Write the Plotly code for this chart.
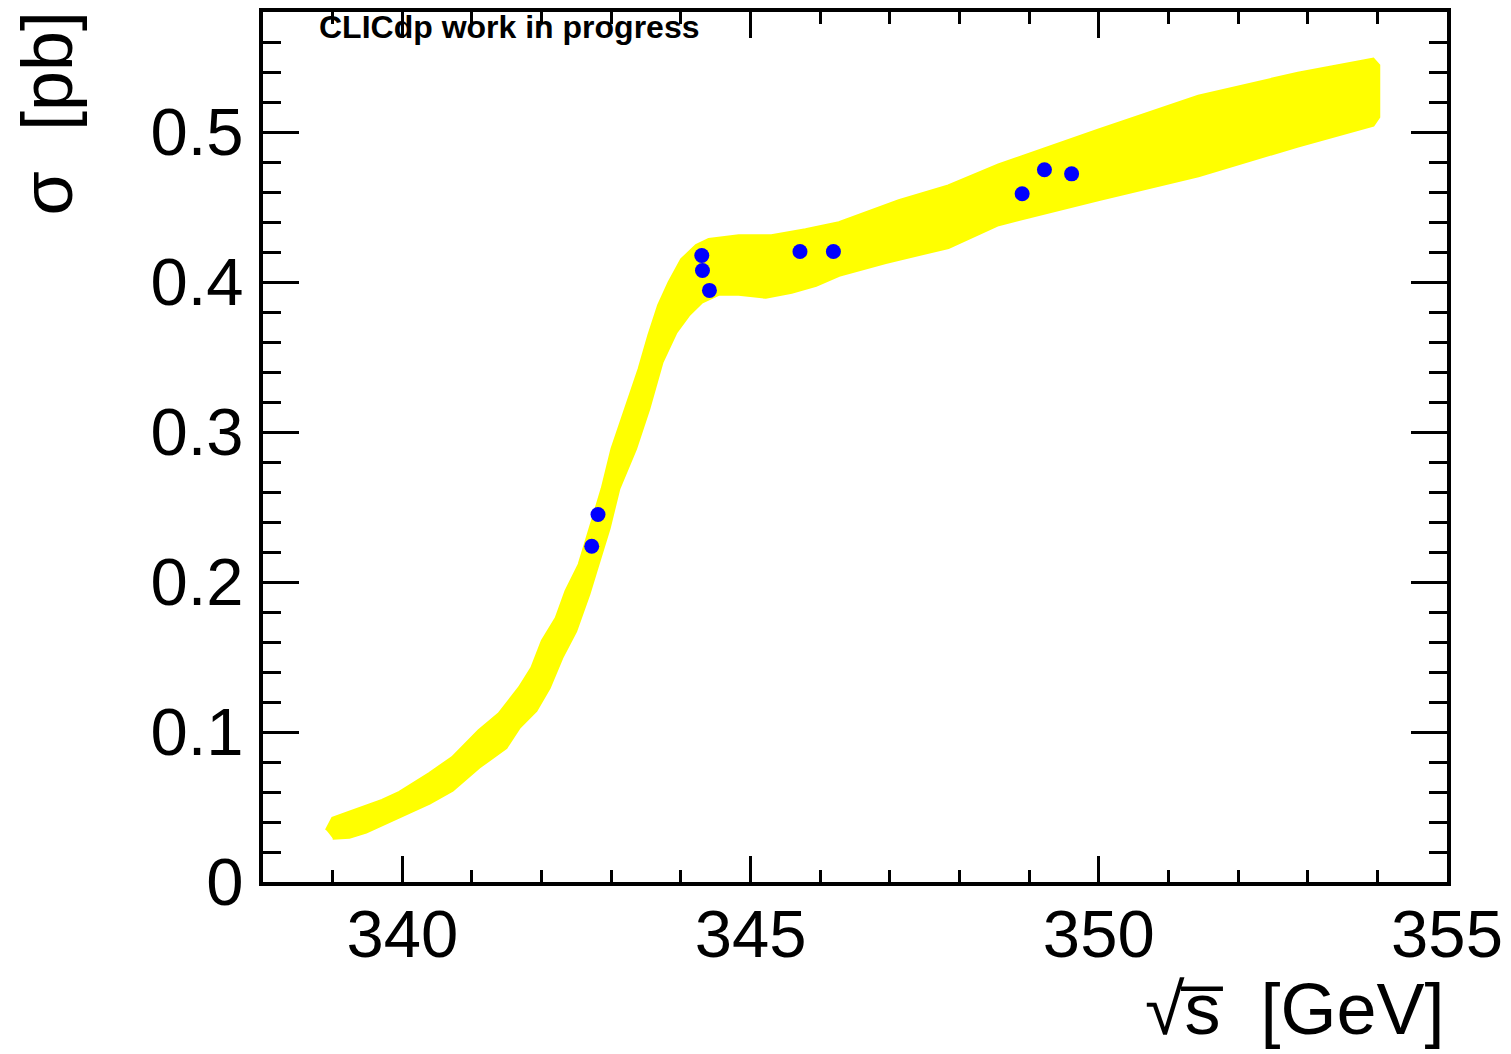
import plotly.graph_objects as go

# Upper (top/left) edge of the yellow band
band_upper_x = [338.91, 339.00, 339.24, 339.48, 339.71, 339.96, 340.39, 340.72, 341.10, 341.39,
                341.68, 341.86, 342.01, 342.21, 342.35, 342.54, 342.64, 342.87, 343.01, 343.21,
                343.40, 343.54, 343.68, 343.83, 344.01, 344.22, 344.40, 344.83, 345.30, 345.79,
                346.27, 347.13, 347.84, 348.56, 349.99, 351.43, 352.86, 353.94, 354.02]
band_upper_y = [0.0345, 0.0425, 0.0465, 0.0505, 0.0544, 0.0598, 0.0724, 0.0830, 0.1009, 0.1122,
                0.1295, 0.1428, 0.1607, 0.1760, 0.1939, 0.2118, 0.2271, 0.2623, 0.2888, 0.3154,
                0.3420, 0.3645, 0.3845, 0.3997, 0.4150, 0.4243, 0.4283, 0.4309, 0.4309, 0.4349,
                0.4396, 0.4542, 0.4641, 0.4781, 0.5013, 0.5239, 0.5392, 0.5485, 0.5445]

# Lower (bottom/right) edge of the yellow band
band_lower_x = [339.00, 339.24, 339.48, 339.71, 339.96, 340.39, 340.72, 341.10, 341.49, 341.68,
                341.92, 342.11, 342.29, 342.49, 342.68, 342.78, 342.97, 343.11, 343.35, 343.54,
                343.73, 343.93, 344.11, 344.30, 344.54, 344.83, 345.22, 345.59, 345.94, 346.27,
                346.94, 347.84, 348.56, 349.99, 351.43, 352.86, 353.94, 354.02]
band_lower_y = [0.0292, 0.0299, 0.0332, 0.0378, 0.0432, 0.0525, 0.0611, 0.0764, 0.0896, 0.1030,
                0.1142, 0.1295, 0.1494, 0.1673, 0.1919, 0.2072, 0.2357, 0.2623, 0.2888, 0.3154,
                0.3466, 0.3665, 0.3778, 0.3865, 0.3918, 0.3918, 0.3898, 0.3931, 0.3977, 0.4044,
                0.4130, 0.4230, 0.4382, 0.4548, 0.4708, 0.4907, 0.5046, 0.5100]

# Blue measurement points
points_x = [342.72, 342.81, 344.30, 344.31, 344.41, 345.71, 346.19, 348.90, 349.22, 349.61]
points_y = [0.2238, 0.2450, 0.4177, 0.4077, 0.3944, 0.4203, 0.4203, 0.4588, 0.4748, 0.4721]

x_tickvals = [340, 345, 350, 355]
y_tickvals = [0, 0.1, 0.2, 0.3, 0.4, 0.5]
y_ticktext = ["0", "0.1", "0.2", "0.3", "0.4", "0.5"]

poly_x = band_upper_x + band_lower_x[::-1]
poly_y = band_upper_y + band_lower_y[::-1]

FONT = "Liberation Sans, Arial, Helvetica, sans-serif"

fig = go.Figure()
fig.add_trace(go.Scatter(
    x=poly_x, y=poly_y, mode="lines", fill="toself",
    fillcolor="#ffff00", line=dict(color="#ffff00", width=3),
    hoverinfo="skip", showlegend=False))
fig.add_trace(go.Scatter(
    x=points_x, y=points_y, mode="markers",
    marker=dict(color="#0000ff", size=15, line=dict(width=0)),
    showlegend=False))

axis_common = dict(
    showline=True, linecolor="black", linewidth=4, mirror="allticks",
    ticks="inside", tickcolor="black", tickwidth=3,
    showgrid=False, zeroline=False,
    tickfont=dict(family=FONT, size=67, color="black"),
)

fig.update_xaxes(
    range=[338, 355], tickvals=x_tickvals, ticklen=26,
    minor=dict(dtick=1, tick0=340, ticks="inside", ticklen=12, tickwidth=3, tickcolor="black", showgrid=False),
    ticklabelstandoff=-9,
    **axis_common)
fig.update_yaxes(
    range=[0, 0.58], tickvals=y_tickvals, ticktext=y_ticktext, ticklen=36,
    minor=dict(dtick=0.02, tick0=0, ticks="inside", ticklen=18, tickwidth=3, tickcolor="black", showgrid=False),
    ticklabelstandoff=2,
    **axis_common)

fig.update_layout(
    width=1511, height=1054,
    margin=dict(l=263, r=63, t=8, b=172),
    plot_bgcolor="white", paper_bgcolor="white",
    font=dict(family=FONT, color="black"),
    annotations=[
        dict(text="<b>CLICdp work in progress</b>", xref="paper", yref="paper",
             x=0.046, y=1.006, xanchor="left", yanchor="top", showarrow=False,
             font=dict(family=FONT, size=32, color="black")),
        dict(text="√s\u0305\u00a0\u00a0[GeV]",
             xref="paper", yref="paper", x=1.0, y=-0.1465, xanchor="right", yanchor="middle",
             showarrow=False, font=dict(family=FONT, size=72, color="black")),
        dict(text="σ\u00a0\u00a0[pb]", xref="paper", yref="paper", x=-0.182, y=1.004,
             xanchor="center", yanchor="top", textangle=-90, showarrow=False,
             font=dict(family=FONT, size=72, color="black")),
    ],
)

fig.write_html("out.html")
